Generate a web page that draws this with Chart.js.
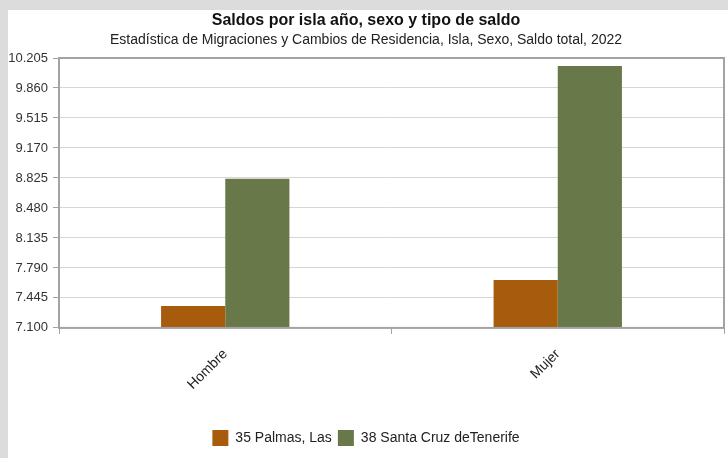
<!DOCTYPE html>
<html>
<head>
<meta charset="utf-8">
<script src="https://cdn.jsdelivr.net/npm/chart.js@4"></script>
<style>
  html, body { margin: 0; padding: 0; background: #dcdcdc; }
  #panel { position: absolute; left: 8px; top: 10px; width: 720px; height: 448px; background: #fff; }
</style>
</head>
<body>
<div id="panel"><canvas id="chart" width="720" height="448"></canvas></div>
<script>
const categories = ['Hombre', 'Mujer'];
const seriesNames = ['35 Palmas, Las', '38 Santa Cruz deTenerife'];
const palmasValues = [7353, 7652];
const tenerifeValues = [8815, 10113];
const yTicks = [7100, 7445, 7790, 8135, 8480, 8825, 9170, 9515, 9860, 10205];

// thousands with a dot, like the source
const fmt = (v) => {
  const s = String(v);
  return s.length > 3 ? s.slice(0, s.length - 3) + '.' + s.slice(-3) : s;
};

const frame = {
  id: 'frame',
  afterDatasetsDraw(chart) {
    const { ctx, chartArea: a } = chart;
    ctx.save();
    ctx.strokeStyle = '#a3a3a3';
    ctx.lineWidth = 2;
    ctx.strokeRect(a.left, a.top, a.right - a.left, a.bottom - a.top);
    ctx.restore();
  }
};

Chart.defaults.font.family = '"Liberation Sans", Arial, sans-serif';
Chart.defaults.color = '#222';

new Chart(document.getElementById('chart'), {
  type: 'bar',
  data: {
    labels: categories,
    datasets: [
      { label: seriesNames[0], data: palmasValues, backgroundColor: '#a65c0c' },
      { label: seriesNames[1], data: tenerifeValues, backgroundColor: '#687848' }
    ]
  },
  options: {
    responsive: false,
    animation: false,
    layout: { padding: { left: 0, right: 4, top: 0, bottom: 2 } },
    datasets: { bar: { categoryPercentage: 0.386, barPercentage: 1.0 } },
    plugins: {
      title: {
        display: true,
        text: 'Saldos por isla año, sexo y tipo de saldo',
        font: { size: 16, weight: 'bold' },
        color: '#111',
        padding: { top: 1, bottom: 2 }
      },
      subtitle: {
        display: true,
        text: 'Estadística de Migraciones y Cambios de Residencia, Isla, Sexo, Saldo total, 2022',
        font: { size: 14 },
        color: '#222',
        padding: { top: 0, bottom: 9 }
      },
      legend: {
        position: 'bottom',
        labels: { boxWidth: 16, boxHeight: 16, font: { size: 14 }, color: '#222', padding: 6 }
      },
      tooltip: { enabled: false }
    },
    scales: {
      x: {
        afterFit: (s) => { s.height += 19; },
        grid: { display: true, drawOnChartArea: false, offset: true, tickLength: 6, color: '#a3a3a3' },
        border: { display: false },
        ticks: { minRotation: 45, maxRotation: 45, font: { size: 14 }, color: '#222', padding: 12 }
      },
      y: {
        min: 7100,
        max: 10205,
        afterFit: (s) => { s.width = 51; },
        afterBuildTicks: (s) => { s.ticks = yTicks.map((v) => ({ value: v })); },
        grid: { color: '#d6d6d6', tickLength: 6, tickColor: '#a3a3a3' },
        border: { display: false },
        ticks: { font: { size: 13 }, color: '#333', padding: 5, callback: (v) => fmt(v) }
      }
    }
  },
  plugins: [frame]
});
</script>
</body>
</html>
